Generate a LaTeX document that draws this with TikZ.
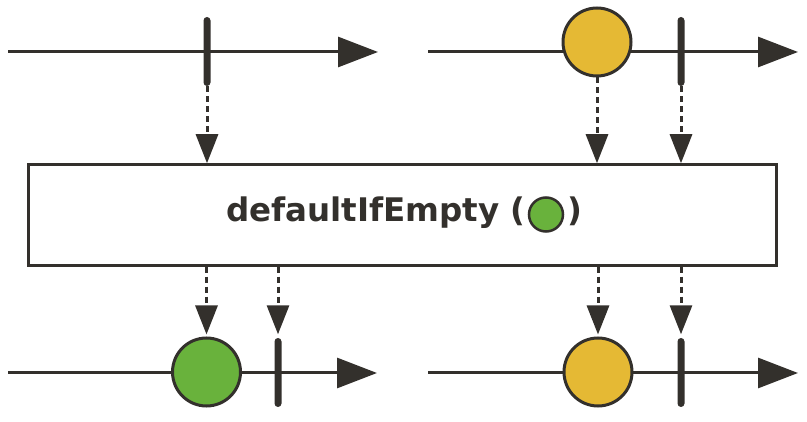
\documentclass[tikz,border=0pt]{standalone}
\usepackage{fontspec}
\setmainfont{DejaVu Sans}
\usetikzlibrary{arrows.meta}
\definecolor{ink}{RGB}{51,48,44}
\definecolor{amber}{RGB}{229,185,52}
\definecolor{leaf}{RGB}{105,178,60}
\tikzset{
  timeline/.style={ink,line width=3pt,-{Triangle[length=40pt,width=30pt]}},
  emitted/.style={ink,line width=3pt,dash pattern=on 6pt off 4pt,-{Triangle[length=29pt,width=22pt]}},
  marble/.style={circle,draw=ink,line width=3pt,minimum size=68pt,inner sep=0pt},
  donebar/.style={rectangle,fill=ink,rounded corners=3.5pt,minimum width=7pt,minimum height=69pt,inner sep=0pt},
  opname/.style={ink,inner sep=0pt,anchor=base west,font=\fontsize{32.5}{39}\selectfont\bfseries},
}
\begin{document}
\begin{tikzpicture}[x=1pt,y=-1pt]
\useasboundingbox (0,0) rectangle (807,422);
% operator
\node[draw=ink,line width=3pt,minimum width=748pt,minimum height=100.5pt,inner sep=0pt] (op) at (402,215) {};
\node[opname] (name) at (226,222) {defaultIfEmpty (};
\node[marble,fill=leaf,minimum size=34pt,line width=2.5pt] (dflt) at (546,214.5) {};
\node[opname] (close) at (567,222) {)};
% source: empty
\coordinate (srcA0) at (8,52);
\coordinate (srcA1) at (378,52);
\draw[timeline] (srcA0) -- (srcA1);
\node[donebar] (srcAend) at (207,51.5) {};
\draw[emitted] (srcAend.south) -- (srcAend.south |- op.north);
% source: one item
\coordinate (srcB0) at (428,52);
\coordinate (srcB1) at (798,52);
\draw[timeline] (srcB0) -- (srcB1);
\node[marble,fill=amber] (srcBval) at (597,42) {};
\node[donebar] (srcBend) at (681,51.5) {};
\draw[emitted] (srcBval.south) -- (srcBval.south |- op.north);
\draw[emitted] (srcBend.south) -- (srcBend.south |- op.north);
% result: default item
\coordinate (outA0) at (8,373);
\coordinate (outA1) at (377,373);
\draw[timeline] (outA0) -- (outA1);
\node[marble,fill=leaf] (outAval) at (206.5,372) {};
\node[donebar] (outAend) at (278,372.5) {};
\draw[emitted,shorten >=2pt] (op.south -| outAval) -- (outAval.north);
\draw[emitted,shorten >=3.5pt] (op.south -| outAend) -- (outAend.north);
% result: item passed through
\coordinate (outB0) at (428,373);
\coordinate (outB1) at (798,373);
\draw[timeline] (outB0) -- (outB1);
\node[marble,fill=amber] (outBval) at (598,372) {};
\node[donebar] (outBend) at (681,372.5) {};
\draw[emitted,shorten >=2pt] (op.south -| outBval) -- (outBval.north);
\draw[emitted,shorten >=3.5pt] (op.south -| outBend) -- (outBend.north);
\end{tikzpicture}
\end{document}
